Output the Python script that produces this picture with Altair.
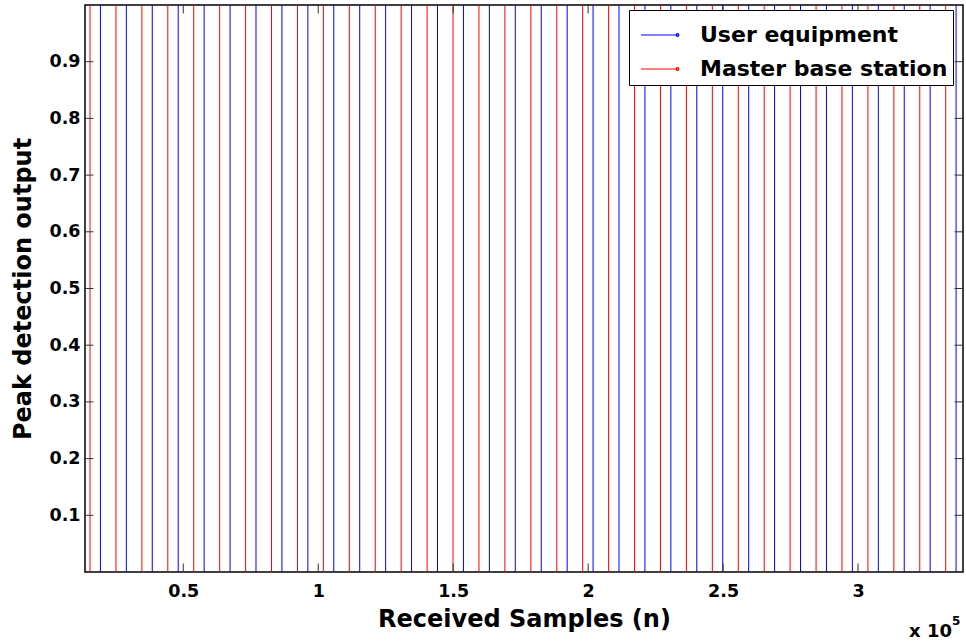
import altair as alt
import pandas as pd

# Sample indices (n) of detected peaks
master_bs_n = [15450, 25060, 34660, 44270, 53880, 63490, 73090, 82700, 92310, 101910,
               111520, 121130, 130730, 140340, 149950, 159560, 169160, 178770, 188380, 197980,
               207590, 217200, 226800, 236410, 246020, 255630, 265230, 274840, 284450, 294050,
               303660, 313270, 322870, 332480]
user_eq_n = [19300, 28910, 38510, 48120, 57730, 67340, 76940, 86550, 96160, 105760,
             115370, 124980, 134580, 144190, 153800, 163410, 173010, 182620, 192230, 201830,
             211440, 221050, 230650, 240260, 249870, 259480, 269080, 278690, 288300, 297900,
             307510, 317120, 326720, 336330]
PEAK = 1.0

series_names = ["User equipment", "Master base station"]
series_colors = ["#0000ff", "#ff0000"]

x_ticks = [50000, 100000, 150000, 200000, 250000, 300000]
y_ticks = [0.1, 0.2, 0.3, 0.4, 0.5, 0.6, 0.7, 0.8, 0.9]
x_domain = [13590, 338890]
y_domain = [0, 1]

rows = [{"n": v, "peak": PEAK, "series": series_names[0]} for v in user_eq_n] + \
       [{"n": v, "peak": PEAK, "series": series_names[1]} for v in master_bs_n]
df = pd.DataFrame(rows)

FONT = "DejaVu Sans"
xscale = alt.Scale(domain=x_domain, nice=False, zero=False)
yscale = alt.Scale(domain=y_domain, nice=False, zero=False)

legend_symbol = "M-1,0L0.92,0M0.92,0m-0.07,0a0.07,0.07 0 1,0 0.14,0a0.07,0.07 0 1,0 -0.14,0"

stems = alt.Chart(df).mark_rule(strokeWidth=1).encode(
    x=alt.X("n:Q", scale=xscale,
            axis=alt.Axis(values=x_ticks, labelExpr="format(datum.value/100000, '~g')",
                          ticks=False, domain=False, grid=False, labelPadding=10,
                          labelFont=FONT, labelFontSize=17.5, labelFontWeight="bold",
                          labelColor="black", title="Received Samples (n)",
                          titleFont=FONT, titleFontSize=24, titleFontWeight="bold",
                          titleColor="black", titlePadding=8)),
    y=alt.Y("peak:Q", scale=yscale,
            axis=alt.Axis(values=y_ticks, labelExpr="format(datum.value, '.1f')",
                          ticks=False, domain=False, grid=False,
                          labelPadding=5, labelFont=FONT, labelFontSize=17.5,
                          labelFontWeight="bold", labelColor="black",
                          title="Peak detection output", titleFont=FONT, titleFontSize=24,
                          titleFontWeight="bold", titleColor="black", titlePadding=13)),
    y2=alt.datum(0),
    color=alt.Color("series:N",
                    scale=alt.Scale(domain=series_names, range=series_colors),
                    legend=alt.Legend(title=None, orient="none", legendX=544, legendY=5,
                                      symbolType=legend_symbol, symbolSize=1444,
                                      symbolStrokeWidth=1.2, labelFont=FONT,
                                      labelFontSize=22, labelFontWeight="bold",
                                      labelColor="black", labelOffset=20, labelLimit=500,
                                      padding=5, symbolOffset=6,
                                      rowPadding=3, strokeColor="black", fillColor="white",
                                      cornerRadius=0)),
)

TICK_Y = 0.015
TICK_X = 3150
xt = pd.DataFrame({"t": x_ticks})
yt = pd.DataFrame({"t": y_ticks})
tick_style = dict(color="#333333", strokeWidth=1)

bottom_ticks = alt.Chart(xt).mark_rule(**tick_style).encode(
    x=alt.X("t:Q", scale=xscale), y=alt.datum(0), y2=alt.datum(TICK_Y))
top_ticks = alt.Chart(xt).mark_rule(**tick_style).encode(
    x=alt.X("t:Q", scale=xscale), y=alt.datum(1 - TICK_Y), y2=alt.datum(1))
left_ticks = alt.Chart(yt).mark_rule(**tick_style).encode(
    y=alt.Y("t:Q", scale=yscale), x=alt.datum(x_domain[0]), x2=alt.datum(x_domain[0] + TICK_X))
right_ticks = alt.Chart(yt).mark_rule(**tick_style).encode(
    y=alt.Y("t:Q", scale=yscale), x=alt.datum(x_domain[1] - TICK_X), x2=alt.datum(x_domain[1]))

exp_df = pd.DataFrame({"base": ["x 10"], "sup": ["5"]})
exp_base = alt.Chart(exp_df).mark_text(font=FONT, fontSize=18, fontWeight="bold",
                                       color="black", align="left",
                                       baseline="alphabetic").encode(
    text="base:N", x=alt.value(824), y=alt.value(632))
exp_sup = alt.Chart(exp_df).mark_text(font=FONT, fontSize=12, fontWeight="bold",
                                      color="black", align="left",
                                      baseline="alphabetic").encode(
    text="sup:N", x=alt.value(867), y=alt.value(620))

chart = alt.layer(stems, bottom_ticks, top_ticks, left_ticks, right_ticks,
                  exp_base, exp_sup).properties(
    width=878, height=567,
    autosize=alt.AutoSizeParams(type="none"),
    padding={"left": 85, "top": 5, "right": 3, "bottom": 69},
    background="white",
).configure_view(stroke="black", strokeWidth=1.5)

chart.save("out.html", embed_options={"renderer": "svg", "actions": False})
